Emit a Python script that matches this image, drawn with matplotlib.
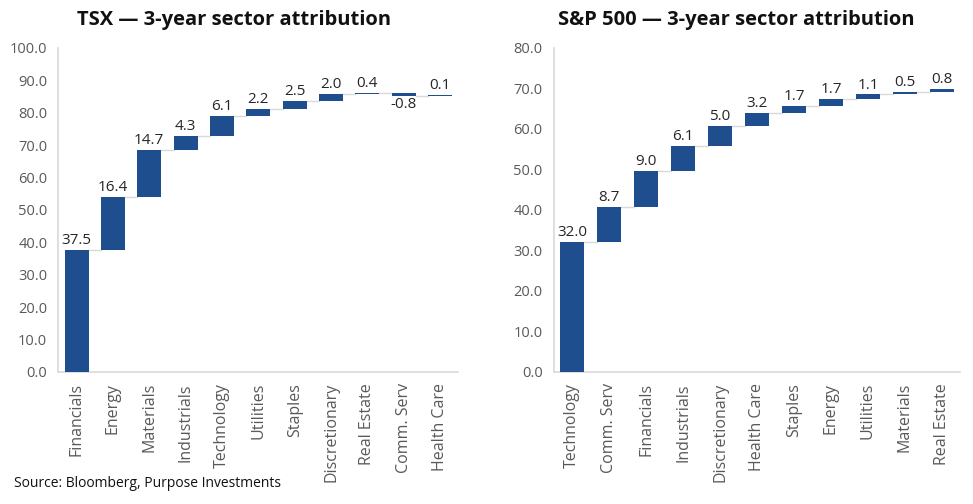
import numpy as np
import matplotlib.pyplot as plt

plt.rcParams['font.family'] = ['Open Sans', 'DejaVu Sans']

tsx_sectors = ['Financials', 'Energy', 'Materials', 'Industrials', 'Technology', 'Utilities',
               'Staples', 'Discretionary', 'Real Estate', 'Comm. Serv', 'Health Care']
tsx_values = [37.5, 16.4, 14.7, 4.3, 6.1, 2.2, 2.5, 2.0, 0.4, -0.8, 0.1]

spx_sectors = ['Technology', 'Comm. Serv', 'Financials', 'Industrials', 'Discretionary', 'Health Care',
               'Staples', 'Energy', 'Utilities', 'Materials', 'Real Estate']
spx_values = [32.0, 8.7, 9.0, 6.1, 5.0, 3.2, 1.7, 1.7, 1.1, 0.5, 0.8]

BLUE = '#1f4e8f'
GREY = '#d9d9d9'
TICK = '#595959'


def waterfall(ax, sectors, values, ymax):
    vals = np.array(values)
    ends = np.cumsum(vals)
    starts = ends - vals
    x = np.arange(len(vals))
    w = 0.66
    ax.bar(x, vals, bottom=starts, width=w, color=BLUE, zorder=3)
    # connector lines
    for i in range(len(vals) - 1):
        ax.plot([x[i] + w / 2, x[i + 1] - w / 2], [ends[i], ends[i]], color=GREY, lw=1, zorder=2)
    for i, v in enumerate(vals):
        top = max(starts[i], ends[i])
        bot = min(starts[i], ends[i])
        if v >= 0:
            ax.text(x[i], top + 0.6 * ymax / 100, f'{v:.1f}', ha='center', va='bottom',
                    fontsize=11, color='#262626')
        else:
            ax.text(x[i], bot - 0.6 * ymax / 100, f'{v:.1f}', ha='center', va='top',
                    fontsize=11, color='#262626')
    ax.set_xlim(-0.5, len(vals) - 0.5)
    ax.set_ylim(0, ymax)
    ax.set_yticks(np.arange(0, ymax + 0.1, 10))
    ax.set_yticklabels([f'{t:.1f}' for t in np.arange(0, ymax + 0.1, 10)])
    ax.set_xticks(x)
    ax.set_xticklabels(sectors, rotation=90)
    ax.tick_params(length=0, labelsize=10.5, colors=TICK, pad=8)
    ax.tick_params(axis='x', labelsize=11.5)
    for s in ['top', 'right']:
        ax.spines[s].set_visible(False)
    for s in ['left', 'bottom']:
        ax.spines[s].set_color(GREY)
        ax.spines[s].set_linewidth(1.2)


fig = plt.figure(figsize=(9.73, 5.04), dpi=100)
ax1 = fig.add_axes([0.060, 0.262, 0.411, 0.643])
ax2 = fig.add_axes([0.569, 0.262, 0.418, 0.643])

waterfall(ax1, tsx_sectors, tsx_values, 100)
waterfall(ax2, spx_sectors, spx_values, 80)

fig.text(0.241, 0.96, 'TSX \u2014 3-year sector attribution', ha='center', va='center',
         fontsize=14.5, fontweight='bold', color='#111111')
fig.text(0.757, 0.96, 'S&P 500 \u2014 3-year sector attribution', ha='center', va='center',
         fontsize=14.5, fontweight='bold', color='#111111')
fig.text(0.014, 0.04, 'Source: Bloomberg, Purpose Investments', ha='left', va='center',
         fontsize=10, color='#111111')

fig.savefig('out.png', dpi=100)
